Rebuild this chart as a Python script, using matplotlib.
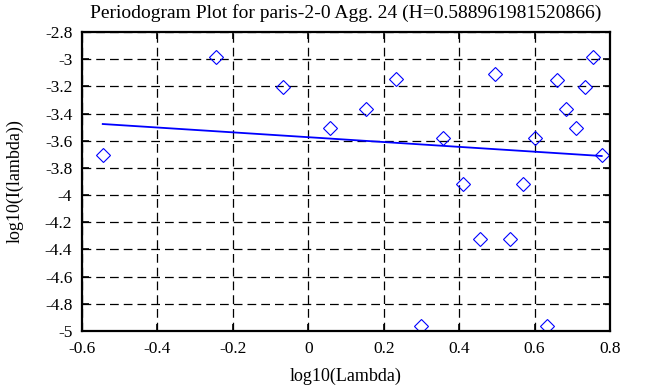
import numpy as np
import matplotlib
matplotlib.use('Agg')
import matplotlib.pyplot as plt

plt.rcParams['font.family'] = ['Liberation Serif', 'DejaVu Serif']

# log10 of frequency and periodogram values
log_lambda = [-0.545, -0.245, -0.068, 0.058, 0.153, 0.233, 0.300, 0.358,
              0.409, 0.456, 0.495, 0.535, 0.569, 0.602, 0.632, 0.659,
              0.684, 0.709, 0.733, 0.754, 0.778]
log_I = [-3.707, -2.984, -3.205, -3.504, -3.364, -3.148, -4.963, -3.577,
         -3.916, -4.325, -3.111, -4.325, -3.916, -3.577, -4.963, -3.150,
         -3.364, -3.506, -3.205, -2.984, -3.707]

H = 0.588961981520866
slope = 1 - 2 * H
intercept = -3.574

x = np.array(log_lambda)
y = np.array(log_I)

fig = plt.figure(figsize=(6.53, 3.87), dpi=100)
ax = fig.add_axes([82 / 653, 1 - 331 / 387, 528 / 653, 299 / 387])

ax.plot(x, y, linestyle='none', marker='D', markersize=7,
        markerfacecolor='none', markeredgecolor='blue', markeredgewidth=0.8)
ax.plot(x, intercept + slope * x, color='blue', linewidth=1.3)

ax.set_xlim(-0.6, 0.8)
ax.set_ylim(-5, -2.8)
ax.set_xticks(np.arange(-0.6, 0.81, 0.2))
ax.set_yticks(np.arange(-5, -2.79, 0.2))
ax.set_xticklabels(['-0.6', '-0.4', '-0.2', '0', '0.2', '0.4', '0.6', '0.8'])
ax.set_yticklabels(['-5', '-4.8', '-4.6', '-4.4', '-4.2', '-4', '-3.8', '-3.6',
                    '-3.4', '-3.2', '-3', '-2.8'])
ax.grid(True, color='black', linestyle=(0, (7, 4)), linewidth=0.9)
ax.tick_params(direction='in', length=5, width=1.2, top=True, right=True,
               labelsize=12.5)
ax.tick_params(axis='y', pad=7)
ax.tick_params(axis='x', pad=7)
for s in ax.spines.values():
    s.set_linewidth(1.6)

ax.set_title('Periodogram Plot for paris-2-0 Agg. 24 (H=0.588961981520866)',
             fontsize=14, pad=10)
ax.set_xlabel('log10(Lambda)', fontsize=13, labelpad=8)
ax.set_ylabel('log10(I(lambda))', fontsize=13, labelpad=15)

plt.savefig('out.png', dpi=100)
